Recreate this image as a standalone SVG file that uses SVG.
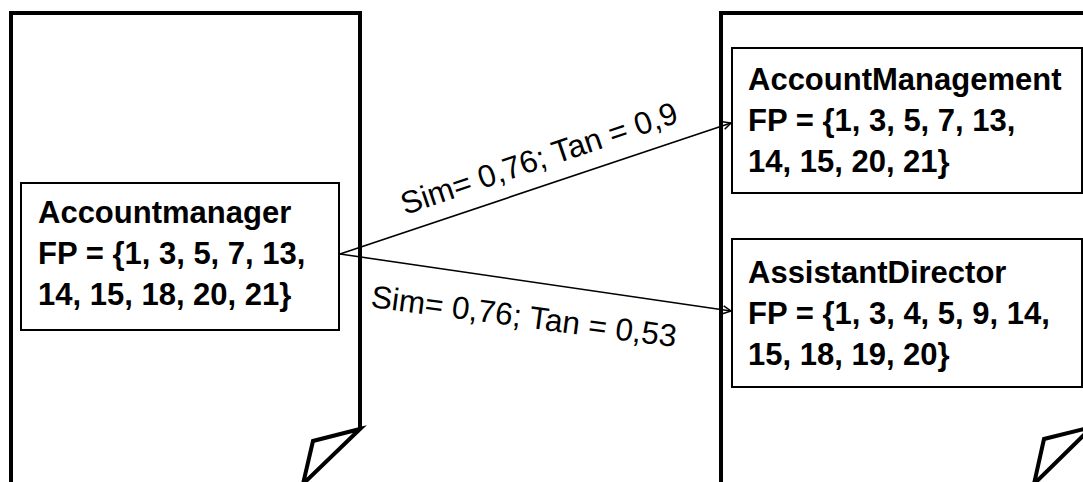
<svg xmlns="http://www.w3.org/2000/svg" width="1083" height="482" viewBox="0 0 1083 482">
<style>
.page{fill:#fff;stroke:#000;stroke-width:4;stroke-linejoin:miter}
.fold{fill:#fff;stroke:#000;stroke-width:4;stroke-linejoin:miter}
.box{fill:#fff;stroke:#000;stroke-width:2}
.nt{font-family:"Liberation Sans",Arial,sans-serif;font-weight:bold;font-size:31px;fill:#000}
.lbl{font-family:"Liberation Sans",Arial,sans-serif;font-size:31.5px;fill:#000}
.conn{fill:none;stroke:#000;stroke-width:1.6}
</style>
<defs>
<marker id="arr" viewBox="0 0 10 10" refX="9" refY="5" markerWidth="10" markerHeight="10" markerUnits="userSpaceOnUse" orient="auto">
<path d="M1,1 L9,5 L1,9" fill="none" stroke="#000" stroke-width="1.5"/>
</marker>
</defs>
<rect width="1083" height="482" fill="#fff"/>
<g id="page-left">
<path class="page" d="M11,490 L11,13 L360,13 L360,429"/>
<path class="fold" d="M360,429 L313,441 L303,484 Z"/>
</g>
<g id="page-right">
<path class="page" d="M721,490 L721,13 L1092,13 L1092,427"/>
<path class="fold" d="M1092,427 L1044,439 L1034,484 Z"/>
</g>
<g id="node-accountmanager">
<rect class="box" x="21" y="183" width="318" height="147"/>
<text class="nt" x="38" y="223">Accountmanager</text>
<text class="nt" x="38" y="264">FP = {1, 3, 5, 7, 13,</text>
<text class="nt" x="38" y="305">14, 15, 18, 20, 21}</text>
</g>
<g id="node-accountmanagement">
<rect class="box" x="732" y="48" width="350" height="145"/>
<text class="nt" x="748" y="90">AccountManagement</text>
<text class="nt" x="748" y="131">FP = {1, 3, 5, 7, 13,</text>
<text class="nt" x="748" y="172">14, 15, 20, 21}</text>
</g>
<g id="node-assistantdirector">
<rect class="box" x="732" y="239" width="350" height="148"/>
<text class="nt" x="748" y="283">AssistantDirector</text>
<text class="nt" x="748" y="324">FP = {1, 3, 4, 5, 9, 14,</text>
<text class="nt" x="748" y="365">15, 18, 19, 20}</text>
</g>
<g id="connectors">
<line class="conn" x1="340" y1="254" x2="731" y2="123" marker-end="url(#arr)"/>
<line class="conn" x1="340" y1="254" x2="731" y2="311" marker-end="url(#arr)"/>
<text class="lbl" transform="translate(405,215) rotate(-18.7)">Sim= 0,76; Tan = 0,9</text>
<text class="lbl" transform="translate(370,307) rotate(7.5)">Sim= 0,76; Tan = 0,53</text>
</g>
</svg>
